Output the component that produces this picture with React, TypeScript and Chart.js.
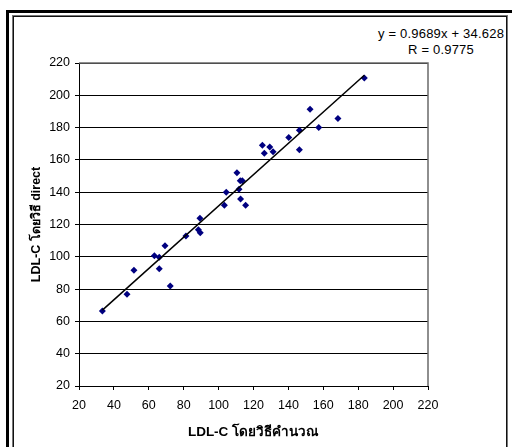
import React, { useEffect, useRef } from "react";
import { Chart, registerables } from "chart.js";

Chart.register(...registerables);

const calcLDL: number[] = [
  33.4, 47.5, 51.5, 63.2, 66.0, 66.0, 69.3, 72.3, 81.3, 89.3, 88.4, 89.5, 103.3, 104.4, 110.5, 111.7,
  112.4, 113.6, 112.6, 115.5, 183.5, 152.4, 168.4, 157.4, 146.3, 140.2, 125.1, 129.3, 131.2, 126.2, 146.3,
];
const directLDL: number[] = [
  66.4, 76.8, 91.6, 100.7, 99.7, 92.6, 106.9, 81.9, 112.9, 123.8, 116.8, 114.9, 131.9, 139.9, 152.1, 141.8,
  147.1, 147.1, 135.8, 131.9, 210.7, 191.3, 185.7, 180.0, 178.3, 173.8, 169.0, 168.0, 165.1, 164.1, 166.3,
];
const SLOPE = 0.9689;
const INTERCEPT = 34.628;
const R_VALUE = 0.9775;
const AXIS_MIN = 20;
const AXIS_MAX = 220;
const AXIS_STEP = 20;
const X_TITLE = "LDL-C โดยวิธีคำนวณ";
const Y_TITLE = "LDL-C โดยวิธี direct";

const FONT = "'Liberation Sans', Arial, sans-serif";

const plotFrame = {
  id: "plotFrame",
  afterDraw(chart: any) {
    const { ctx, chartArea } = chart;
    ctx.save();
    ctx.strokeStyle = "#6a6a6a";
    ctx.lineWidth = 1.5;
    ctx.beginPath();
    ctx.moveTo(chartArea.left, chartArea.top);
    ctx.lineTo(chartArea.right, chartArea.top);
    ctx.lineTo(chartArea.right, chartArea.bottom);
    ctx.stroke();
    ctx.restore();
  },
};

export default function App() {
  const ref = useRef<HTMLCanvasElement | null>(null);

  useEffect(() => {
    document.body.style.margin = "0";
    if (!ref.current) return;
    const pts = calcLDL.map((x, i) => ({ x, y: directLDL[i] }));
    const xMin = Math.min(...calcLDL);
    const xMax = Math.max(...calcLDL);
    const trend = [
      { x: xMin, y: SLOPE * xMin + INTERCEPT },
      { x: xMax, y: SLOPE * xMax + INTERCEPT },
    ];
    const tickFont = { family: FONT, size: 12.5 };
    const chart = new Chart(ref.current, {
      type: "scatter",
      data: {
        datasets: [
          {
            type: "line" as any,
            data: trend,
            borderColor: "#000",
            borderWidth: 1.5,
            pointRadius: 0,
            fill: false,
          } as any,
          {
            data: pts,
            backgroundColor: "#000080",
            borderColor: "#000080",
            pointStyle: "rectRot",
            pointRadius: 3.5,
            borderWidth: 0,
          },
        ],
      },
      options: {
        animation: false,
        responsive: false,
        maintainAspectRatio: false,
        layout: { padding: { left: 0, top: 63, right: 84, bottom: 0 } },
        plugins: { legend: { display: false }, tooltip: { enabled: false } },
        scales: {
          x: {
            type: "linear",
            min: AXIS_MIN,
            max: AXIS_MAX,
            ticks: { stepSize: AXIS_STEP, color: "#000", font: tickFont, padding: 8 },
            grid: { drawOnChartArea: false, drawTicks: true, tickLength: 4, color: "#000" },
            border: { color: "#000", width: 1 },
            title: {
              display: true,
              text: X_TITLE,
              color: "#000",
              font: { family: FONT, size: 13.5, weight: "bold" },
              padding: { top: 0, bottom: 7 },
            },
            afterFit: (s: any) => {
              s.height = 61;
            },
          },
          y: {
            type: "linear",
            min: AXIS_MIN,
            max: AXIS_MAX,
            ticks: { stepSize: AXIS_STEP, color: "#000", font: tickFont, padding: 5 },
            grid: { drawTicks: true, tickLength: 4, color: "#000" },
            border: { color: "#000", width: 1 },
            title: {
              display: true,
              text: Y_TITLE,
              color: "#000",
              font: { family: FONT, size: 12.5, weight: "bold" },
              padding: { top: 29, bottom: 0 },
            },
            afterFit: (s: any) => {
              s.width = 79;
            },
          },
        },
      },
      plugins: [plotFrame],
    });
    return () => chart.destroy();
  }, []);

  return (
    <div style={{ position: "fixed", left: 0, top: 0, width: 512, height: 447, overflow: "hidden", background: "#fff" }}>
      <div
        style={{
          position: "absolute",
          left: 6,
          top: 10,
          width: 520,
          height: 460,
          border: "3px solid #000",
          boxSizing: "border-box",
        }}
      />
      <div
        style={{
          position: "absolute",
          left: 12,
          top: 15,
          width: 496,
          height: 460,
          border: "1px solid #777",
          boxShadow: "inset 1px 1px 0 #111, inset -1px 0 0 #111",
          boxSizing: "border-box",
        }}
      />
      <div
        style={{
          position: "absolute",
          left: 341,
          top: 26,
          width: 200,
          textAlign: "center",
          fontFamily: FONT,
          fontSize: 13,
          letterSpacing: "0.2px",
          lineHeight: "15.5px",
          color: "#000",
        }}
      >
        <div>{`y = ${SLOPE}x + ${INTERCEPT}`}</div>
        <div>{`R = ${R_VALUE}`}</div>
      </div>
      <canvas ref={ref} width={512} height={447} style={{ position: "absolute", left: 0, top: 0 }} />
    </div>
  );
}
